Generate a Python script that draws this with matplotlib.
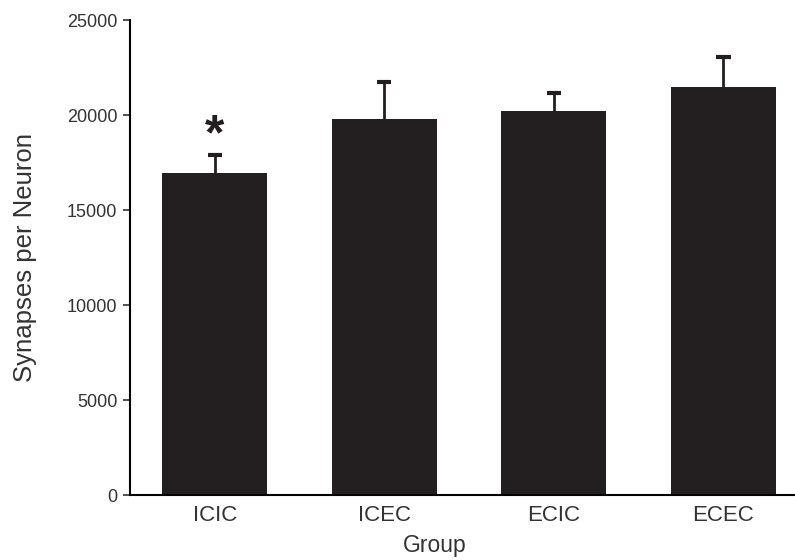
import numpy as np
import matplotlib.pyplot as plt

plt.rcParams['font.family'] = ['Liberation Sans', 'DejaVu Sans']

groups = ["ICIC", "ICEC", "ECIC", "ECEC"]
synapses = [16950, 19790, 20210, 21470]
sem = [950, 1950, 950, 1580]

fig = plt.figure(figsize=(7.95, 5.6), dpi=100)
ax = fig.add_axes([0.1635, 0.116, 0.836, 0.848])

x = np.arange(len(groups))
tops = np.array(synapses) + np.array(sem)
bar_col = "#231f20"

ax.bar(x, synapses, width=0.62, color=bar_col, zorder=2)
# upper error bars only
ax.vlines(x, synapses, tops, color=bar_col, linewidth=2, zorder=1)
ax.hlines(tops, x - 0.042, x + 0.042, color=bar_col, linewidth=3, zorder=1)

# significance marker
ax.text(x[0], tops[0] + 1000, "*", ha="center", va="center",
        fontsize=36, fontweight="bold", color=bar_col)

ax.set_xlim(-0.5, 3.42)
ax.set_ylim(0, 25000)
ax.set_yticks([0, 5000, 10000, 15000, 20000, 25000])
ax.set_xticks(x)
ax.set_xticklabels(groups, fontsize=16, color="#333333")
ax.tick_params(axis="x", length=0, pad=7)
ax.tick_params(axis="y", length=5, width=1.2, labelsize=13, colors="#333333", pad=4)

ax.spines["top"].set_visible(False)
ax.spines["right"].set_visible(False)
ax.spines["left"].set_linewidth(1.5)
ax.spines["bottom"].set_linewidth(1.5)

ax.set_xlabel("Group", fontsize=16.5, color="#333333")
ax.xaxis.set_label_coords(0.459, -0.082)
ax.set_ylabel("Synapses per Neuron", fontsize=18.5, color="#333333")
ax.yaxis.set_label_coords(-0.14, 0.5)

fig.savefig("out.png", dpi=100)
